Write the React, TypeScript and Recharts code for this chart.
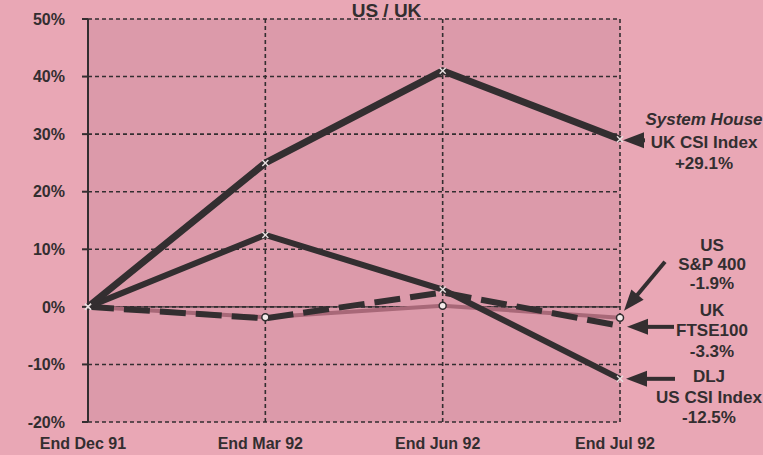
import React from "react";
import {
  LineChart,
  Line,
  XAxis,
  YAxis,
  CartesianGrid,
  ReferenceLine,
} from "recharts";

const categories = ["End Dec 91", "End Mar 92", "End Jun 92", "End Jul 92"];
const systemHouseUK = [0, 25, 41, 29.1];
const dljUS = [0, 12.5, 3, -12.5];
const ftse100 = [0, -2, 2.5, -3.3];
const sp400 = [0, -1.8, 0.2, -1.9];
const yTicks = [-20, -10, 0, 10, 20, 30, 40, 50];

const data = categories.map((c, i) => ({
  cat: c,
  sh: systemHouseUK[i],
  dlj: dljUS[i],
  ftse: ftse100[i],
  sp: sp400[i],
}));

const INK = "#332e30";
const FONT = "'Liberation Sans', Arial, Helvetica, sans-serif";

const Arrow = ({ x1, y1, x2, y2 }: { x1: number; y1: number; x2: number; y2: number }) => {
  const dx = x2 - x1;
  const dy = y2 - y1;
  const len = Math.sqrt(dx * dx + dy * dy) || 1;
  const ux = dx / len;
  const uy = dy / len;
  const hl = 21;
  const hw = 8;
  const bx = x2 - ux * hl;
  const by = y2 - uy * hl;
  const px = -uy;
  const py = ux;
  return (
    <g>
      <line x1={x1} y1={y1} x2={bx + ux * 2} y2={by + uy * 2} stroke={INK} strokeWidth={4} />
      <polygon
        points={`${x2},${y2} ${bx + px * hw},${by + py * hw} ${bx - px * hw},${by - py * hw}`}
        fill={INK}
      />
    </g>
  );
};

const Lines = ({ x, ys, lines, italicFirst }: { x: number; ys: number[]; lines: string[]; italicFirst?: boolean }) => (
  <g>
    {lines.map((t, i) => (
      <text
        key={i}
        x={x}
        y={ys[i]}
        textAnchor="middle"
        dominantBaseline="central"
        fontFamily={FONT}
        fontWeight="bold"
        fontStyle={italicFirst && i === 0 ? "italic" : "normal"}
        fontSize={17}
        fill={INK}
      >
        {t}
      </text>
    ))}
  </g>
);

const mkLabel = (kind: string) => (props: any) => {
  const { x, y, index } = props;
  if (index !== categories.length - 1) return null;
  const cx = x + 92;
  if (kind === "sh") {
    return (
      <g>
        <Arrow x1={x + 25} y1={y + 1} x2={x + 3} y2={y + 1} />
        <Lines x={cx - 8} ys={[y - 20, y + 3, y + 24]} lines={["System House", "UK CSI Index", "+29.1%"]} italicFirst />
      </g>
    );
  }
  if (kind === "sp") {
    return (
      <g>
        <Arrow x1={x + 45} y1={y - 56} x2={x + 4} y2={y - 7} />
        <Lines x={cx} ys={[y - 72, y - 53, y - 34]} lines={["US", "S&P 400", "-1.9%"]} />
      </g>
    );
  }
  if (kind === "ftse") {
    return (
      <g>
        <Arrow x1={x + 54} y1={y + 1} x2={x + 7} y2={y + 1} />
        <Lines x={cx} ys={[y - 15, y + 5, y + 26]} lines={["UK", "FTSE100", "-3.3%"]} />
      </g>
    );
  }
  return (
    <g>
      <Arrow x1={x + 55} y1={y} x2={x + 6} y2={y} />
      <Lines x={cx - 3} ys={[y - 2, y + 19, y + 39]} lines={["DLJ", "US CSI Index", "-12.5%"]} />
    </g>
  );
};

const CrossDot = (props: any) => {
  const { cx, cy } = props;
  if (cx == null || cy == null) return null;
  const s = 3;
  return (
    <g stroke="#e8e0e0" strokeWidth={1.4}>
      <line x1={cx - s} y1={cy - s} x2={cx + s} y2={cy + s} />
      <line x1={cx - s} y1={cy + s} x2={cx + s} y2={cy - s} />
    </g>
  );
};

const CircleDot = (props: any) => {
  const { cx, cy, index } = props;
  if (cx == null || cy == null || index === 0) return null;
  return <circle cx={cx} cy={cy} r={3.5} fill="#f4eaea" stroke={INK} strokeWidth={1.5} />;
};

export default function App() {
  return (
    <div style={{ position: "relative", width: 763, height: 455, background: "#e9a7b5", overflow: "hidden" }}>
      <style>{`body{margin:0}`}</style>
      <LineChart
        width={763}
        height={455}
        data={data}
        margin={{ top: 19, right: 143, bottom: 0, left: 18 }}
      >
        <CartesianGrid
          fill="#dc9aaa"
          stroke={INK}
          strokeWidth={1.6}
          strokeDasharray="4 3"
        />
        <XAxis
          dataKey="cat"
          scale="point"
          padding={{ left: 0, right: 0 }}
          axisLine={false}
          tickLine={false}
          tickSize={0}
          tickMargin={16}
          height={33}
          interval={0}
          tick={{ fill: INK, fontFamily: FONT, fontWeight: "bold", fontSize: 16, dx: -5 } as any}
        />
        <YAxis
          domain={[-20, 50]}
          ticks={yTicks}
          width={70}
          tickFormatter={(v: number) => `${v}%`}
          axisLine={{ stroke: INK, strokeWidth: 2 }}
          tickLine={{ stroke: INK, strokeWidth: 2 }}
          tickSize={6}
          tickMargin={17}
          interval={0}
          tick={{ fill: INK, fontFamily: FONT, fontWeight: "bold", fontSize: 16 }}
        />
        <ReferenceLine y={0} stroke={INK} strokeWidth={1.2} />
        <Line
          dataKey="sp"
          stroke="#a86878"
          strokeWidth={4}
          dot={<CircleDot />}
          isAnimationActive={false}
          label={mkLabel("sp")}
        />
        <Line
          dataKey="ftse"
          stroke={INK}
          strokeWidth={6}
          strokeDasharray="26 10"
          dot={false}
          isAnimationActive={false}
          label={mkLabel("ftse")}
        />
        <Line
          dataKey="dlj"
          stroke={INK}
          strokeWidth={6}
          dot={<CrossDot />}
          isAnimationActive={false}
          label={mkLabel("dlj")}
        />
        <Line
          dataKey="sh"
          stroke={INK}
          strokeWidth={7}
          dot={<CrossDot />}
          isAnimationActive={false}
          label={mkLabel("sh")}
        />
      </LineChart>
      <div
        style={{
          position: "absolute",
          left: 0,
          width: 763,
          top: 1,
          textAlign: "center",
          fontFamily: FONT,
          fontWeight: "bold",
          fontSize: 19,
          lineHeight: "19px",
          color: INK,
          paddingLeft: 10,
          boxSizing: "border-box",
          pointerEvents: "none",
        }}
      >
        US / UK
      </div>
    </div>
  );
}
